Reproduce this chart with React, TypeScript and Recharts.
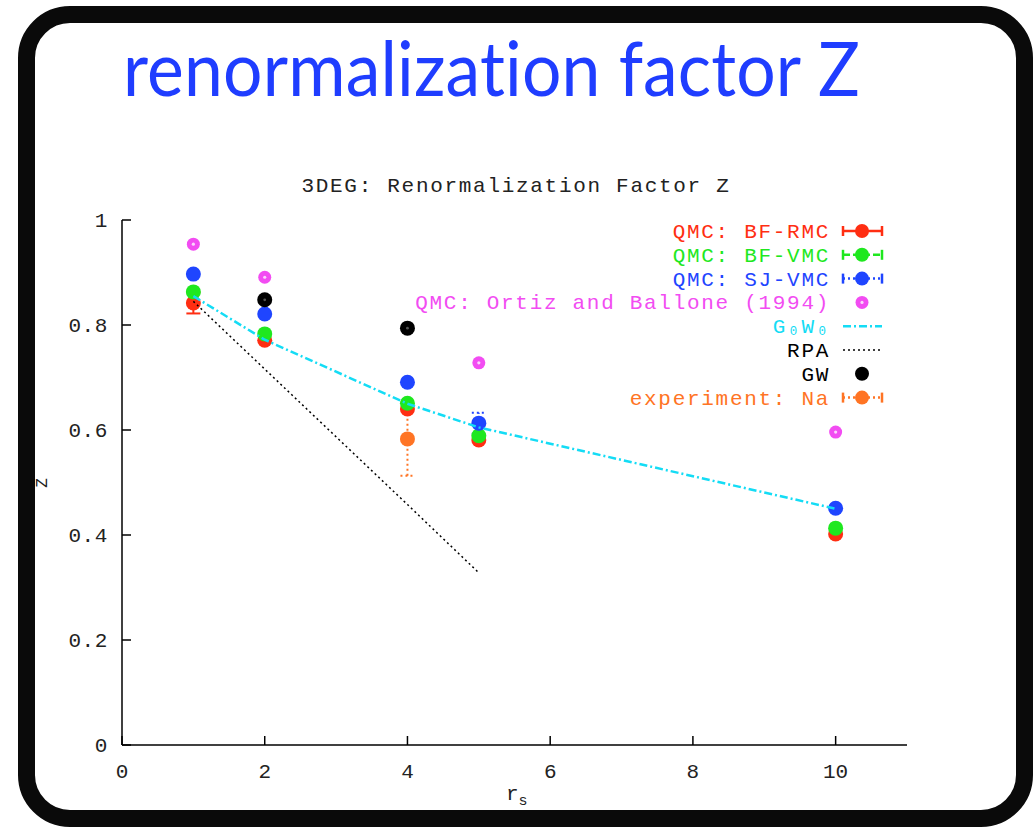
import React from "react";
import { ScatterChart, Scatter, XAxis, YAxis, ErrorBar } from "recharts";

// r_s positions of the QMC runs
const rs = [1, 2, 4, 5, 10];
const bfRmc = [0.842, 0.771, 0.64, 0.581, 0.402];
const bfRmcErr = [0.02, null, null, null, null];
const bfVmc = [0.863, 0.783, 0.651, 0.589, 0.413];
const sjVmc = [0.897, 0.821, 0.691, 0.613, 0.451];
const sjVmcErr = [null, null, null, 0.02, null];

const ortizRs = [1, 2, 5, 10];
const ortiz = [0.954, 0.891, 0.728, 0.596];

const g0w0Rs = [1, 2, 4, 5, 10];
const g0w0 = [0.855, 0.772, 0.65, 0.605, 0.45];

const rpaRs = [1, 2, 4, 5];
const rpa = [0.845, 0.716, 0.458, 0.328];

const gwRs = [2, 4];
const gw = [0.848, 0.794];

const exptRs = [4];
const expt = [0.583];
const exptErr = [0.07];

const xTicks = [0, 2, 4, 6, 8, 10];
const yTicks = [0, 0.2, 0.4, 0.6, 0.8, 1];

const RED = "#ff2e12";
const GREEN = "#1fe81f";
const BLUE = "#1f45ff";
const MAGENTA = "#f24cf2";
const CYAN = "#14dcf5";
const ORANGE = "#ff7424";

const MONO = '"Liberation Mono", "DejaVu Sans Mono", monospace';

const pts = (xs: number[], ys: number[], errs?: (number | null)[]) =>
  xs.map((x, i) => ({ x, y: ys[i], err: errs ? errs[i] : null }));

const dot = (color: string, r = 7.5) => (p: any) => (
  <g>
    <circle cx={p.cx} cy={p.cy} r={r} fill={color} />
  </g>
);

const ring = (color: string) => (p: any) => (
  <g>
    <circle cx={p.cx} cy={p.cy} r={6.5} fill={color} />
    <circle cx={p.cx} cy={p.cy} r={1.6} fill="#fbd6fb" />
  </g>
);

const blackDot = (p: any) => (
  <g>
    <circle cx={p.cx} cy={p.cy} r={7.5} fill="#000" />
    <circle cx={p.cx} cy={p.cy} r={1.4} fill="#555" />
  </g>
);

const noShape = () => <g />;

const XTick = (props: any) => {
  const { x, y, payload } = props;
  return (
    <g>
      <line x1={x} x2={x} y1={y} y2={y - 9} stroke="#000" strokeWidth={1.5} />
      <text x={x} y={y + 33} textAnchor="middle" fontFamily={MONO} fontSize={21} fill="#222">
        {payload.value}
      </text>
    </g>
  );
};

const YTick = (props: any) => {
  const { x, y, payload } = props;
  return (
    <g>
      <line x1={x} x2={x + 9} y1={y} y2={y} stroke="#000" strokeWidth={1.5} />
      <text x={x - 14} y={y + 7} textAnchor="end" fontFamily={MONO} fontSize={21} fill="#222" style={{ letterSpacing: 0.6 }}>
        {String(payload.value)}
      </text>
    </g>
  );
};

const legendRows = [
  { label: "QMC: BF-RMC", color: RED, kind: "err", dash: "" },
  { label: "QMC: BF-VMC", color: GREEN, kind: "err", dash: "7 3" },
  { label: "QMC: SJ-VMC", color: BLUE, kind: "err", dash: "2 3" },
  { label: "QMC: Ortiz and Ballone (1994)", color: MAGENTA, kind: "ring", dash: "" },
  { label: "G₀W₀", color: CYAN, kind: "line", dash: "8 3 2 3" },
  { label: "RPA", color: "#000", kind: "line", dash: "2 3" },
  { label: "GW", color: "#000", kind: "dot", dash: "" },
  { label: "experiment: Na", color: ORANGE, kind: "err", dash: "2 3" },
];

function LegendSymbol({ row, y }: { row: any; y: number }) {
  const x1 = 843;
  const x2 = 882;
  const cx = 862;
  if (row.kind === "ring") {
    return (
      <g>
        <circle cx={cx} cy={y} r={6.5} fill={row.color} />
        <circle cx={cx} cy={y} r={1.6} fill="#fbd6fb" />
      </g>
    );
  }
  if (row.kind === "dot") {
    return <circle cx={cx} cy={y} r={7} fill={row.color} />;
  }
  if (row.kind === "line") {
    return (
      <line x1={x1} x2={x2} y1={y} y2={y} stroke={row.color} strokeWidth={row.color === "#000" ? 1.5 : 2.5} strokeDasharray={row.dash} />
    );
  }
  return (
    <g>
      <line x1={x1} x2={x2} y1={y} y2={y} stroke={row.color} strokeWidth={2.5} strokeDasharray={row.dash || undefined} />
      <line x1={x1} x2={x1} y1={y - 5} y2={y + 5} stroke={row.color} strokeWidth={2.5} />
      <line x1={x2} x2={x2} y1={y - 5} y2={y + 5} stroke={row.color} strokeWidth={2.5} />
      <circle cx={cx} cy={y} r={7} fill={row.color} />
    </g>
  );
}

export default function App() {
  return (
    <div style={{ position: "absolute", left: 0, top: 0, width: 1035, height: 830, background: "#fff", overflow: "hidden" }}>
      <ScatterChart width={1035} height={830} margin={{ top: 220, right: 128, bottom: 45, left: 62 }}>
        <XAxis
          dataKey="x"
          type="number"
          domain={[0, 11]}
          ticks={xTicks}
          height={40}
          tickSize={0}
          tickMargin={0}
          tickLine={false}
          tick={<XTick />}
          axisLine={{ stroke: "#000", strokeWidth: 1.5 }}
        />
        <YAxis
          dataKey="y"
          type="number"
          domain={[0, 1]}
          ticks={yTicks}
          width={60}
          tickSize={0}
          tickMargin={0}
          tickLine={false}
          tick={<YTick />}
          axisLine={{ stroke: "#000", strokeWidth: 1.5 }}
        />
        <Scatter name="QMC: BF-RMC" data={pts(rs, bfRmc, bfRmcErr)} shape={dot(RED)} isAnimationActive={false}>
          <ErrorBar dataKey="err" direction="y" width={7} stroke={RED} strokeWidth={2} isAnimationActive={false} />
        </Scatter>
        <Scatter name="QMC: BF-VMC" data={pts(rs, bfVmc)} shape={dot(GREEN)} isAnimationActive={false} />
        <Scatter name="QMC: SJ-VMC" data={pts(rs, sjVmc, sjVmcErr)} shape={dot(BLUE)} isAnimationActive={false}>
          <ErrorBar dataKey="err" direction="y" width={7} stroke={BLUE} strokeWidth={2} strokeDasharray="2 3" isAnimationActive={false} />
        </Scatter>
        <Scatter name="Ortiz" data={pts(ortizRs, ortiz)} shape={ring(MAGENTA)} isAnimationActive={false} />
        <Scatter
          name="G0W0"
          data={pts(g0w0Rs, g0w0)}
          shape={noShape}
          line={{ stroke: CYAN, strokeWidth: 2.5, strokeDasharray: "8 3 2 3" }}
          isAnimationActive={false}
        />
        <Scatter
          name="RPA"
          data={pts(rpaRs, rpa)}
          shape={noShape}
          line={{ stroke: "#000", strokeWidth: 1.5, strokeDasharray: "2 3" }}
          isAnimationActive={false}
        />
        <Scatter name="GW" data={pts(gwRs, gw)} shape={blackDot} isAnimationActive={false} />
        <Scatter name="experiment: Na" data={pts(exptRs, expt, exptErr)} shape={dot(ORANGE)} isAnimationActive={false}>
          <ErrorBar dataKey="err" direction="y" width={7} stroke={ORANGE} strokeWidth={2} strokeDasharray="2 3" isAnimationActive={false} />
        </Scatter>
      </ScatterChart>

      <svg width={1035} height={830} style={{ position: "absolute", left: 0, top: 0, pointerEvents: "none" }}>
        <text
          x={123}
          y={96}
          fontFamily="Lato, 'Open Sans', sans-serif"
          fontSize={76}
          fill="#1f3dff"
          textLength={737}
          lengthAdjust="spacingAndGlyphs"
          style={{ fontVariantLigatures: "none", fontFeatureSettings: '"liga" 0, "clig" 0, "dlig" 0', letterSpacing: 0.2 }}
        >
          renormalization factor Z
        </text>
        <text x={516} y={192} textAnchor="middle" fontFamily={MONO} fontSize={21} fill="#222" style={{ letterSpacing: 1.7 }}>
          3DEG: Renormalization Factor Z
        </text>
        {legendRows.map((row, i) => {
          const y = 231 + i * 23.8;
          return (
            <g key={row.label}>
              <text x={830} y={y + 7} textAnchor="end" fontFamily={MONO} fontSize={21} fill={row.color} style={{ letterSpacing: 1.7 }}>
                {row.label}
              </text>
              <LegendSymbol row={row} y={y} />
            </g>
          );
        })}
        <text x={506} y={800} fontFamily={MONO} fontSize={21} fill="#222">
          r<tspan dy={5} fontSize={15}>s</tspan>
        </text>
        <text x={47} y={483} fontFamily={MONO} fontSize={16} fill="#222" textAnchor="middle" transform="rotate(-90 47 483)">
          Z
        </text>
      </svg>

      <div
        style={{
          position: "absolute",
          left: 18,
          top: 6,
          width: 1015,
          height: 821,
          boxSizing: "border-box",
          border: "17px solid #0a0a0a",
          borderRadius: 52,
          pointerEvents: "none",
        }}
      />
    </div>
  );
}
